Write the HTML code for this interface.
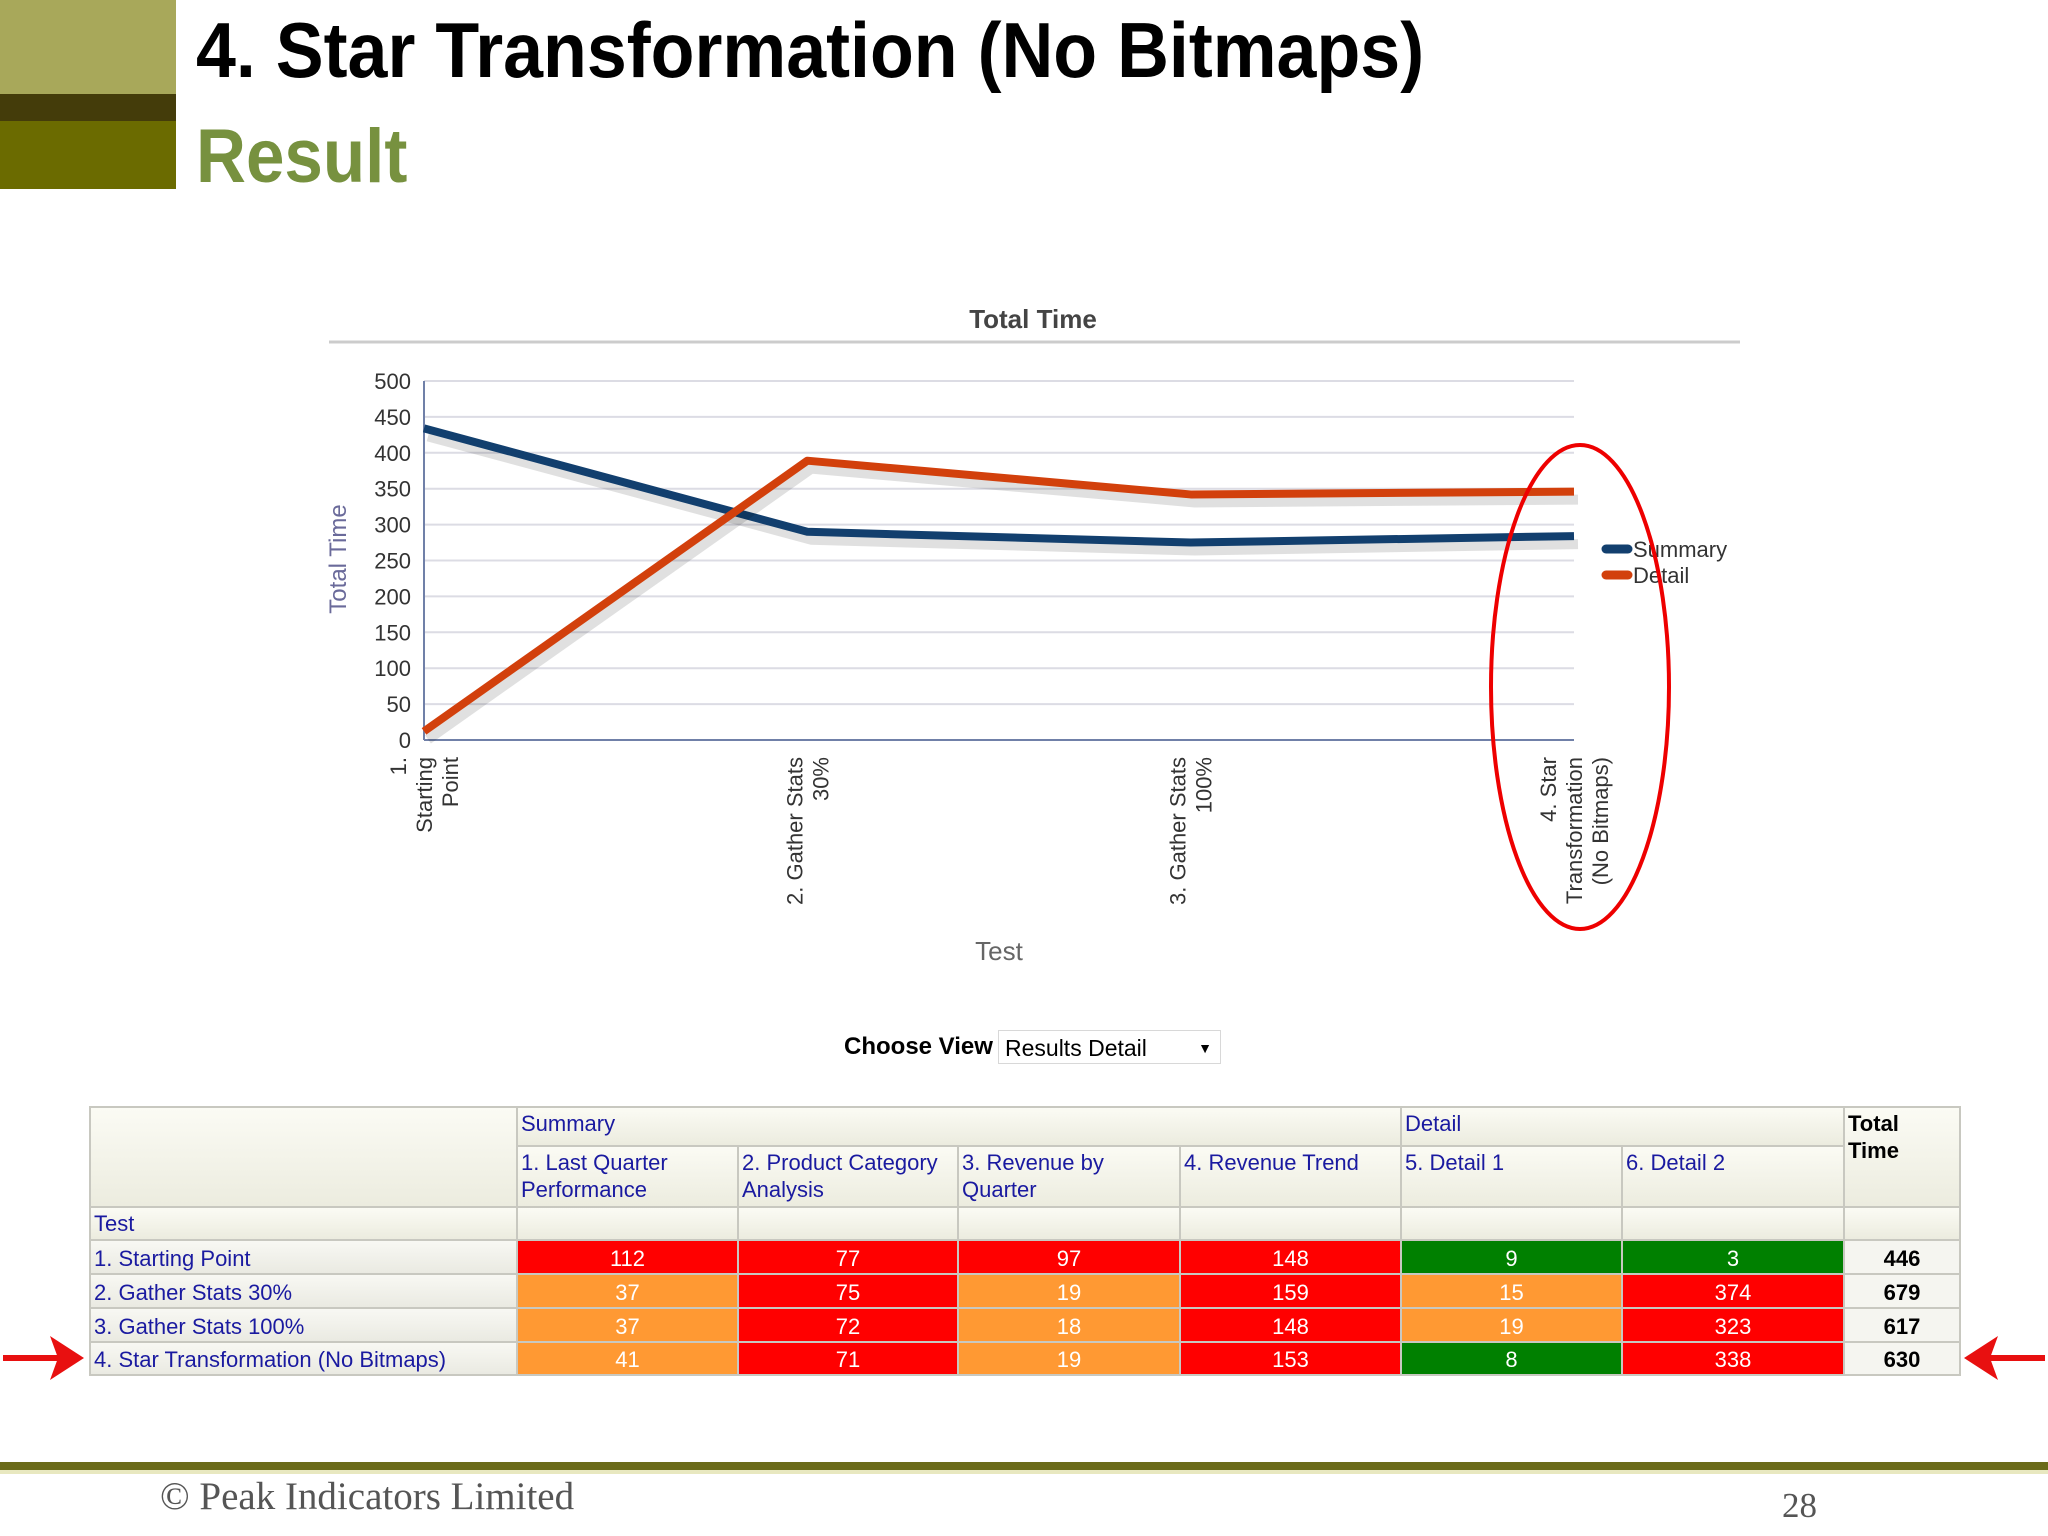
<!DOCTYPE html>
<html><head><meta charset="utf-8">
<style>
body{margin:0;width:2048px;height:1536px;position:relative;background:#fff;overflow:hidden;font-family:"Liberation Sans",sans-serif;}
.abs{position:absolute;}
table{border-collapse:collapse;table-layout:fixed;}
td{border:2px solid #c8c8c0;padding:2px 3px 0 3px;font-size:22px;color:#1a1aa0;vertical-align:top;line-height:27px;}
.hd{background:linear-gradient(#fbfbf4,#ececdf);}
.v{color:#fff;text-align:center;vertical-align:middle;}
.r{background:#ff0000}.o{background:#ff9933}.g{background:#008000}
.t{background:#f5f5f0;color:#000;font-weight:bold;text-align:center;vertical-align:middle;}
.rl{background:linear-gradient(#f8f8f3,#eaeae2);vertical-align:middle;}
</style></head><body>
<div class="abs" style="left:0;top:0;width:176px;height:94px;background:#a8a85a"></div>
<div class="abs" style="left:0;top:94px;width:176px;height:27px;background:#443c0a"></div>
<div class="abs" style="left:0;top:121px;width:176px;height:68px;background:#6b6b00"></div>
<div class="abs" style="left:196px;top:4px;font-size:78px;font-weight:bold;color:#000;white-space:nowrap;transform:scaleX(0.92);transform-origin:left top;line-height:92px">4. Star Transformation (No Bitmaps)</div>
<div class="abs" style="left:196px;top:112px;font-size:76px;font-weight:bold;color:#77913f;white-space:nowrap;transform:scaleX(0.91);transform-origin:left top;line-height:90px">Result</div>

<svg class="abs" style="left:0;top:0" width="2048" height="1000" id="chart"></svg>

<div class="abs" style="left:844px;top:1033px;font-size:24px;font-weight:bold;color:#000">Choose View</div>
<div class="abs" style="left:998px;top:1030px;width:223px;height:34px;border:1px solid #d8d8d8;font-size:23px;line-height:34px;box-sizing:border-box;padding-left:6px;color:#000">Results Detail<span style="position:absolute;right:8px;top:0;font-size:14px">▼</span></div>

<table class="abs" style="left:89px;top:1106px;width:1870px">
<colgroup><col style="width:427px"><col style="width:221px"><col style="width:220px"><col style="width:222px"><col style="width:221px"><col style="width:221px"><col style="width:222px"><col style="width:116px"></colgroup>
<tr style="height:39px"><td class="hd" rowspan="2"></td><td class="hd" colspan="4">Summary</td><td class="hd" colspan="2">Detail</td><td class="hd" rowspan="2" style="color:#000;font-weight:bold">Total<br>Time</td></tr>
<tr style="height:61px"><td class="hd">1. Last Quarter Performance</td><td class="hd">2. Product Category Analysis</td><td class="hd">3. Revenue by Quarter</td><td class="hd">4. Revenue Trend</td><td class="hd">5. Detail 1</td><td class="hd">6. Detail 2</td></tr>
<tr style="height:33px"><td class="hd">Test</td><td class="hd"></td><td class="hd"></td><td class="hd"></td><td class="hd"></td><td class="hd"></td><td class="hd"></td><td class="hd"></td></tr>
<tr style="height:34px"><td class="rl">1. Starting Point</td><td class="v r">112</td><td class="v r">77</td><td class="v r">97</td><td class="v r">148</td><td class="v g">9</td><td class="v g">3</td><td class="t">446</td></tr>
<tr style="height:34px"><td class="rl">2. Gather Stats 30%</td><td class="v o">37</td><td class="v r">75</td><td class="v o">19</td><td class="v r">159</td><td class="v o">15</td><td class="v r">374</td><td class="t">679</td></tr>
<tr style="height:34px"><td class="rl">3. Gather Stats 100%</td><td class="v o">37</td><td class="v r">72</td><td class="v o">18</td><td class="v r">148</td><td class="v o">19</td><td class="v r">323</td><td class="t">617</td></tr>
<tr style="height:33px"><td class="rl">4. Star Transformation (No Bitmaps)</td><td class="v o">41</td><td class="v r">71</td><td class="v o">19</td><td class="v r">153</td><td class="v g">8</td><td class="v r">338</td><td class="t">630</td></tr>
</table>

<svg class="abs" style="left:0;top:1320px" width="2048" height="80">
<g fill="#e81010"><rect x="3" y="35" width="60" height="6"/><polygon points="84,38 50,16 58,38 50,60"/>
<rect x="1985" y="35" width="60" height="6"/><polygon points="1964,38 1998,16 1990,38 1998,60"/></g>
</svg>

<div class="abs" style="left:0;top:1462px;width:2048px;height:8px;background:#6b6b1a"></div>
<div class="abs" style="left:0;top:1470px;width:2048px;height:4px;background:#e8e8c0"></div>
<div class="abs" style="left:160px;top:1474px;font-family:'Liberation Serif',serif;font-size:39px;color:#555">© Peak Indicators Limited</div>
<div class="abs" style="left:1782px;top:1486px;font-family:'Liberation Serif',serif;font-size:35px;color:#555">28</div>

<script>
const categories=[["1.","Starting","Point"],["2. Gather Stats","30%"],["3. Gather Stats","100%"],["4. Star","Transformation","(No Bitmaps)"]];
const summaryValues=[434,290,275,284];
const detailValues=[12,389,342,346];
const yTicks=[0,50,100,150,200,250,300,350,400,450,500];
const NS="http://www.w3.org/2000/svg";
const svg=document.getElementById('chart');
const X0=424,X1=1574,Y0=740,Y1=381;
const xs=i=>X0+(X1-X0)*i/(categories.length-1);
const ys=v=>Y0-(Y0-Y1)*v/500;
function mk(t,a,p){const e=document.createElementNS(NS,t);for(const k in a)e.setAttribute(k,a[k]);(p||svg).appendChild(e);return e;}
let e=mk('text',{x:1033,y:328,'text-anchor':'middle','font-size':26,'font-weight':'bold',fill:'#444'});e.textContent='Total Time';


mk('line',{x1:329,x2:1740,y1:342,y2:342,stroke:'#ccc','stroke-width':3});
yTicks.forEach(t=>{
 const g=mk('line',{x1:X0,x2:X1,y1:ys(t),y2:ys(t),stroke:t?'#dcdce4':'#7080a8','stroke-width':2});
 
 
 const l=mk('text',{x:411,y:ys(t)+8,'text-anchor':'end','font-size':22,fill:'#333'});l.textContent=t;
 
 
});
mk('line',{x1:X0,x2:X0,y1:Y1,y2:Y0,stroke:'#7080a8','stroke-width':2});
e=mk('text',{x:0,y:0,transform:'translate(346,559) rotate(-90)','text-anchor':'middle','font-size':24,fill:'#6a6a9a'});e.textContent='Total Time';


e=mk('text',{x:999,y:960,'text-anchor':'middle','font-size':26,fill:'#666'});e.textContent='Test';


categories.forEach((c,i)=>{
 const n=c.length;
 c.forEach((s,j)=>{
  const off=(j-(n-1)/2)*26+8;
  const t=mk('text',{x:0,y:0,transform:`translate(${xs(i)+off},757) rotate(-90)`,'text-anchor':'end','font-size':22,fill:'#333'});t.textContent=s;
  
  
 });
});
function series(vals,col,name){
 const pts=vals.map((v,i)=>xs(i)+','+ys(v)).join(' ');
 mk('polyline',{points:vals.map((v,i)=>(xs(i)+4)+','+(ys(v)+8)).join(' '),fill:'none',stroke:'rgba(0,0,0,0.12)','stroke-width':10});
 const p=mk('polyline',{points:pts,fill:'none',stroke:col,'stroke-width':8,'stroke-linejoin':'round'});
 
 
}
series(summaryValues,'#123f6e','summary-line');
series(detailValues,'#d2400c','detail-line');
[['Summary','#123f6e',549],['Detail','#d2400c',575]].forEach(([n,c,y])=>{
 mk('line',{x1:1606,x2:1628,y1:y,y2:y,stroke:c,'stroke-width':9,'stroke-linecap':'round'});
 const t=mk('text',{x:1633,y:y+8,'font-size':22,fill:'#333'});t.textContent=n;
 
 
});
e=mk('ellipse',{cx:1580,cy:687,rx:89,ry:242,fill:'none',stroke:'#ee0000','stroke-width':4});


</script>
</body></html>
